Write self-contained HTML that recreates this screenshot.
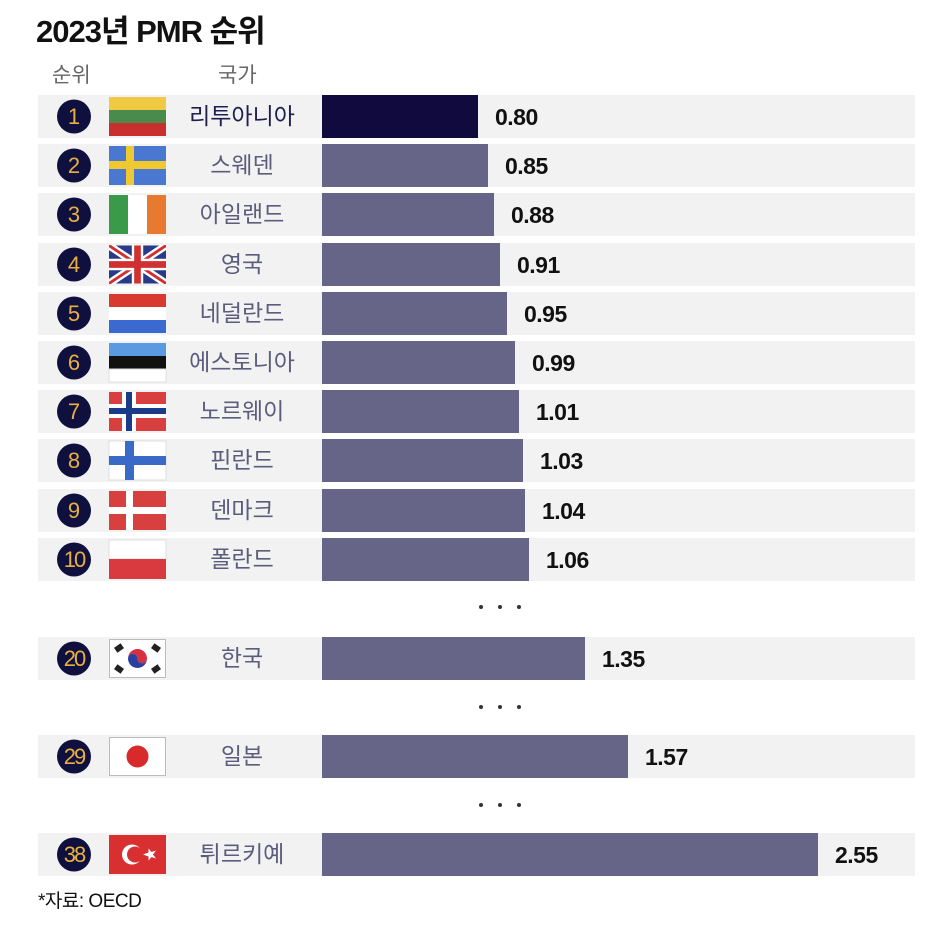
<!DOCTYPE html>
<html><head><meta charset="utf-8"><style>
html,body{margin:0;padding:0;background:#fff;}
svg{display:block;}
text{font-family:"Liberation Sans","Noto Sans CJK KR",sans-serif;}
.n{font-size:23px;fill:#5c5c7c;text-anchor:middle;}
.v{font-size:23px;font-weight:bold;fill:#111;letter-spacing:-0.5px;}
.r{font-size:22px;fill:#e8b040;text-anchor:middle;}
</style></head><body>
<svg width="950" height="948" viewBox="0 0 950 948" xmlns="http://www.w3.org/2000/svg">
<text x="36" y="42" style="font-size:31px;font-weight:bold;fill:#111;letter-spacing:-1px">2023년 PMR 순위</text>
<text x="52" y="82" style="font-size:21px;fill:#666">순위</text>
<text x="218" y="82" style="font-size:21px;fill:#666">국가</text>

<g fill="#f2f2f2">
<rect x="38" y="95" width="877" height="43"/><rect x="38" y="144" width="877" height="43"/>
<rect x="38" y="193" width="877" height="43"/><rect x="38" y="243" width="877" height="43"/>
<rect x="38" y="292" width="877" height="43"/><rect x="38" y="341" width="877" height="43"/>
<rect x="38" y="390" width="877" height="43"/><rect x="38" y="439" width="877" height="43"/>
<rect x="38" y="489" width="877" height="43"/><rect x="38" y="538" width="877" height="43"/>
<rect x="38" y="637" width="877" height="43"/><rect x="38" y="735" width="877" height="43"/>
<rect x="38" y="833" width="877" height="43"/>
</g>

<rect x="322" y="95" width="156" height="43" fill="#100a3e"/>
<g fill="#676587">
<rect x="322" y="144" width="166" height="43"/><rect x="322" y="193" width="172" height="43"/>
<rect x="322" y="243" width="178" height="43"/><rect x="322" y="292" width="185" height="43"/>
<rect x="322" y="341" width="193" height="43"/><rect x="322" y="390" width="197" height="43"/>
<rect x="322" y="439" width="201" height="43"/><rect x="322" y="489" width="203" height="43"/>
<rect x="322" y="538" width="207" height="43"/><rect x="322" y="637" width="263" height="43"/>
<rect x="322" y="735" width="306" height="43"/><rect x="322" y="833" width="496" height="43"/>
</g>

<text class="v" x="495" y="125">0.80</text><text class="v" x="505" y="174">0.85</text>
<text class="v" x="511" y="223">0.88</text><text class="v" x="517" y="273">0.91</text>
<text class="v" x="524" y="322">0.95</text><text class="v" x="532" y="371">0.99</text>
<text class="v" x="536" y="420">1.01</text><text class="v" x="540" y="469">1.03</text>
<text class="v" x="542" y="519">1.04</text><text class="v" x="546" y="568">1.06</text>
<text class="v" x="602" y="667">1.35</text><text class="v" x="645" y="765">1.57</text>
<text class="v" x="835" y="863">2.55</text>

<g fill="#10103e">
<circle cx="74" cy="116.5" r="17"/><circle cx="74" cy="165.5" r="17"/><circle cx="74" cy="214.5" r="17"/>
<circle cx="74" cy="264.5" r="17"/><circle cx="74" cy="313.5" r="17"/><circle cx="74" cy="362.5" r="17"/>
<circle cx="74" cy="411.5" r="17"/><circle cx="74" cy="460.5" r="17"/><circle cx="74" cy="510.5" r="17"/>
<circle cx="74" cy="559.5" r="17"/><circle cx="74" cy="658.5" r="17"/><circle cx="74" cy="756.5" r="17"/>
<circle cx="74" cy="854.5" r="17"/>
</g>
<text class="r" x="74" y="124">1</text><text class="r" x="74" y="173">2</text><text class="r" x="74" y="222">3</text>
<text class="r" x="74" y="272">4</text><text class="r" x="74" y="321">5</text><text class="r" x="74" y="370">6</text>
<text class="r" x="74" y="419">7</text><text class="r" x="74" y="468">8</text><text class="r" x="74" y="518">9</text>
<text class="r" x="74" y="567" style="letter-spacing:-2px">10</text><text class="r" x="74" y="666" style="letter-spacing:-2px">20</text>
<text class="r" x="74" y="764" style="letter-spacing:-2px">29</text><text class="r" x="74" y="862" style="letter-spacing:-2px">38</text>

<text class="n" x="242" y="124" style="fill:#1e1e50">리투아니아</text>
<text class="n" x="242" y="173">스웨덴</text><text class="n" x="242" y="222">아일랜드</text>
<text class="n" x="242" y="272">영국</text><text class="n" x="242" y="321">네덜란드</text>
<text class="n" x="242" y="370">에스토니아</text><text class="n" x="242" y="419">노르웨이</text>
<text class="n" x="242" y="468">핀란드</text><text class="n" x="242" y="518">덴마크</text>
<text class="n" x="242" y="567">폴란드</text><text class="n" x="242" y="666">한국</text>
<text class="n" x="242" y="764">일본</text><text class="n" x="242" y="862">튀르키예</text>

<rect x="109" y="97" width="57" height="13" fill="#f0c945"/><rect x="109" y="110" width="57" height="13" fill="#4a8a4a"/><rect x="109" y="123" width="57" height="13" fill="#c83030"/>
<rect x="109" y="146" width="57" height="39" fill="#4a78d0"/><rect x="126" y="146" width="8" height="39" fill="#f0c830"/><rect x="109" y="161" width="57" height="8" fill="#f0c830"/>
<rect x="109" y="195" width="19" height="39" fill="#3a9a4a"/><rect x="128" y="195" width="19" height="39" fill="#fff"/><rect x="147" y="195" width="19" height="39" fill="#e87a30"/>
<svg x="109" y="245" width="57" height="39" viewBox="0 0 60 40">
<rect width="60" height="40" fill="#2a3a8a"/>
<path d="M0,0L60,40M60,0L0,40" stroke="#fff" stroke-width="8"/>
<path d="M0,0L60,40M60,0L0,40" stroke="#d03030" stroke-width="3"/>
<path d="M30,0V40M0,20H60" stroke="#fff" stroke-width="12"/>
<path d="M30,0V40M0,20H60" stroke="#d03030" stroke-width="7"/>
</svg>
<rect x="109" y="294" width="57" height="13" fill="#d83a30"/><rect x="109" y="307" width="57" height="13" fill="#fff"/><rect x="109" y="320" width="57" height="13" fill="#3a6ad0"/>
<rect x="109" y="343" width="57" height="13" fill="#5a9ae0"/><rect x="109" y="356" width="57" height="13" fill="#111"/><rect x="109" y="369" width="57" height="13" fill="#fff" stroke="#ddd"/>
<rect x="109" y="392" width="57" height="39" fill="#d84040"/><rect x="122" y="392" width="14" height="39" fill="#fff"/><rect x="109" y="404" width="57" height="14" fill="#fff"/>
<rect x="126" y="392" width="6" height="39" fill="#1a3a8a"/><rect x="109" y="408" width="57" height="6" fill="#1a3a8a"/>
<rect x="109" y="441" width="57" height="39" fill="#fff" stroke="#ddd"/><rect x="125" y="441" width="9" height="39" fill="#3a6ac8"/><rect x="109" y="456" width="57" height="9" fill="#3a6ac8"/>
<rect x="109" y="491" width="57" height="39" fill="#d84040"/><rect x="126" y="491" width="7" height="39" fill="#fff"/><rect x="109" y="507" width="57" height="7" fill="#fff"/>
<rect x="109" y="540" width="57" height="19" fill="#fff" stroke="#ddd"/><rect x="109" y="559" width="57" height="20" fill="#d83a40"/>
<rect x="109.5" y="639.5" width="56" height="38" fill="#fff" stroke="#bbb"/>
<path d="M128,658.5 a9.5,9.5 0 0 1 19,0 a4.75,4.75 0 0 1 -9.5,0 a4.75,4.75 0 0 0 -9.5,0z" fill="#d83040"/>
<path d="M128,658.5 a9.5,9.5 0 0 0 19,0 a4.75,4.75 0 0 1 -9.5,0 a4.75,4.75 0 0 0 -9.5,0z" fill="#2a40a0"/>
<g fill="#222"><rect x="115" y="645" width="8" height="6" transform="rotate(-35 119 648)"/><rect x="152" y="645" width="8" height="6" transform="rotate(35 156 648)"/>
<rect x="115" y="666" width="8" height="6" transform="rotate(35 119 669)"/><rect x="152" y="666" width="8" height="6" transform="rotate(-35 156 669)"/></g>
<rect x="109.5" y="737.5" width="56" height="38" fill="#fff" stroke="#bbb"/><circle cx="137.5" cy="756.5" r="11" fill="#d82a2a"/>
<rect x="109" y="835" width="57" height="39" fill="#d83030"/>
<circle cx="132" cy="854.5" r="10" fill="#fff"/><circle cx="135" cy="854.5" r="8" fill="#d83030"/>
<polygon points="143,854.5 148.5,852.5 148.5,848.5 151.5,852 156,850.5 153,854.5 156,858.5 151.5,857 148.5,860.5 148.5,856.5" fill="#fff"/>

<g fill="#333"><circle cx="481" cy="607" r="2"/><circle cx="500" cy="607" r="2"/><circle cx="519" cy="607" r="2"/>
<circle cx="481" cy="707" r="2"/><circle cx="500" cy="707" r="2"/><circle cx="519" cy="707" r="2"/>
<circle cx="481" cy="805" r="2"/><circle cx="500" cy="805" r="2"/><circle cx="519" cy="805" r="2"/></g>

<text x="38" y="907" style="font-size:19px;fill:#111;letter-spacing:-0.5px">*자료: OECD</text>
</svg>
</body></html>
